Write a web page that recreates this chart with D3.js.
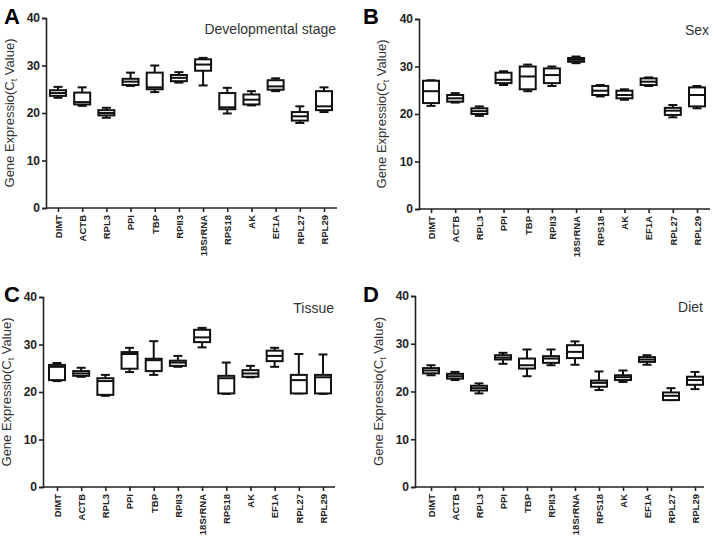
<!DOCTYPE html>
<html>
<head>
<meta charset="utf-8">
<script src="https://cdn.jsdelivr.net/npm/d3@7"></script>
<style>
  body { margin: 0; background: #fff; }
  text { font-family: Arial, "Liberation Sans", sans-serif; }
</style>
</head>
<body>
<div id="chart"></div>
<script>
// genes on the x axis
var genes = ["DIMT", "ACTB", "RPL3", "PPI", "TBP", "RPII3", "18SrRNA", "RPS18", "AK", "EF1A", "RPL27", "RPL29"];
var yTicks = [0, 10, 20, 30, 40];

// each row: [min, q1, median, q3, max] for one gene
var devStage = [
  [23.2, 23.6, 24.2, 24.8, 25.5],
  [21.5, 21.8, 22.3, 24.3, 25.4],
  [19.0, 19.5, 20.0, 20.6, 21.1],
  [25.7, 25.9, 26.6, 27.2, 28.5],
  [24.4, 25.0, 25.4, 28.5, 30.0],
  [26.4, 26.7, 27.4, 28.0, 28.6],
  [25.8, 28.9, 30.2, 31.3, 31.6],
  [19.9, 20.8, 21.2, 24.2, 25.3],
  [21.6, 21.8, 22.8, 23.9, 24.6],
  [24.6, 24.9, 25.6, 26.9, 27.3],
  [17.9, 18.4, 19.3, 20.2, 21.4],
  [20.2, 20.6, 21.4, 24.6, 25.4]
];
var sex = [
  [21.7, 22.3, 24.8, 27.0, 27.1],
  [22.4, 22.6, 23.3, 24.0, 24.4],
  [19.6, 20.0, 20.6, 21.2, 21.6],
  [26.1, 26.5, 27.2, 28.7, 29.0],
  [24.8, 25.2, 27.9, 30.0, 30.4],
  [25.9, 26.5, 28.2, 29.6, 30.0],
  [30.7, 31.0, 31.4, 31.8, 32.1],
  [23.7, 24.0, 24.9, 25.9, 26.1],
  [23.0, 23.3, 24.0, 24.9, 25.2],
  [25.9, 26.1, 26.8, 27.5, 27.7],
  [19.3, 19.8, 20.7, 21.3, 21.9],
  [21.2, 21.6, 24.0, 25.6, 25.9]
];
var tissue = [
  [22.3, 22.5, 25.3, 25.7, 26.1],
  [23.2, 23.4, 23.9, 24.4, 25.1],
  [19.2, 19.4, 22.3, 22.9, 23.6],
  [24.2, 24.9, 28.0, 28.4, 29.3],
  [23.6, 24.4, 26.7, 27.0, 30.7],
  [25.3, 25.5, 26.2, 26.6, 27.6],
  [29.4, 30.5, 31.5, 33.1, 33.5],
  [19.6, 19.7, 22.9, 23.4, 26.2],
  [23.1, 23.2, 23.9, 24.6, 25.5],
  [25.3, 26.5, 27.6, 28.7, 29.3],
  [19.7, 19.7, 22.5, 23.6, 28.0],
  [19.6, 19.7, 23.1, 23.6, 27.9]
];
var diet = [
  [23.4, 23.8, 24.4, 24.9, 25.5],
  [22.4, 22.7, 23.2, 23.7, 24.1],
  [19.6, 20.2, 20.7, 21.2, 21.7],
  [25.8, 26.7, 27.1, 27.6, 28.1],
  [23.2, 24.8, 25.5, 26.9, 28.8],
  [25.5, 26.0, 26.9, 27.4, 28.8],
  [25.6, 27.0, 28.3, 29.7, 30.5],
  [20.3, 21.0, 21.8, 22.3, 24.2],
  [22.0, 22.4, 23.0, 23.4, 24.4],
  [25.6, 26.2, 26.7, 27.2, 27.6],
  [18.2, 18.2, 19.1, 19.8, 20.7],
  [20.5, 21.4, 22.4, 23.1, 24.1]
];

var W = 714, H = 538;
var svg = d3.select("#chart").append("svg")
  .attr("width", W)
  .attr("height", H);

// panel placement on the page
var panels = [
  {letter: "A", title: "Developmental stage", data: devStage, ax: 46, top: 18, bottom: 208, xEnd: 337, c0: 58, c1: 324, lx: 4, ly: 24, labX: 14},
  {letter: "B", title: "Sex", data: sex, ax: 419, top: 19, bottom: 209, xEnd: 710, c0: 431, c1: 697, lx: 363, ly: 24, labX: 386},
  {letter: "C", title: "Tissue", data: tissue, ax: 43, top: 297, bottom: 487, xEnd: 335, c0: 57, c1: 323, lx: 4, ly: 302, labX: 11},
  {letter: "D", title: "Diet", data: diet, ax: 415, top: 296, bottom: 487, xEnd: 704, c0: 431, c1: 695, lx: 363, ly: 302, labX: 383}
];

panels.forEach(function(p) {
  var g = svg.append("g");

  var x = d3.scalePoint().domain(genes).range([p.c0, p.c1]);
  var y = d3.scaleLinear().domain([0, 40]).range([p.bottom, p.top]);

  // y axis
  var yAxis = g.append("g")
    .attr("transform", "translate(" + p.ax + ",0)")
    .call(d3.axisLeft(y).tickValues(yTicks).tickSize(4).tickPadding(2));
  yAxis.selectAll("text")
    .style("font-size", "12px").style("font-weight", "bold").attr("fill", "#222");

  // x axis
  var xAxis = g.append("g")
    .attr("transform", "translate(0," + p.bottom + ")")
    .call(d3.axisBottom(x).tickSize(4).tickPadding(3));
  xAxis.select(".domain")
    .attr("d", "M" + p.ax + ",0H" + p.xEnd);
  xAxis.selectAll("text")
    .style("font-size", "9.5px").style("font-weight", "bold").attr("fill", "#222")
    .attr("transform", "rotate(-90)")
    .attr("text-anchor", "end")
    .attr("x", -7).attr("y", 0).attr("dy", "0.35em");

  [yAxis, xAxis].forEach(function(a) {
    a.select(".domain").attr("stroke", "#222").attr("stroke-width", 1.6);
    a.selectAll(".tick line").attr("stroke", "#222").attr("stroke-width", 1.6);
  });

  // boxes
  var bw = 16, cw = 9;
  var boxes = g.selectAll(".box")
    .data(p.data)
    .enter().append("g")
    .attr("class", "box")
    .attr("transform", function(d, i) { return "translate(" + x(genes[i]) + ",0)"; });

  boxes.append("line")
    .attr("x1", 0).attr("x2", 0)
    .attr("y1", function(d) { return y(d[4]); })
    .attr("y2", function(d) { return y(d[0]); })
    .attr("stroke", "#111").attr("stroke-width", 2);
  boxes.append("line")
    .attr("x1", -cw / 2).attr("x2", cw / 2)
    .attr("y1", function(d) { return y(d[4]); })
    .attr("y2", function(d) { return y(d[4]); })
    .attr("stroke", "#111").attr("stroke-width", 2);
  boxes.append("line")
    .attr("x1", -cw / 2).attr("x2", cw / 2)
    .attr("y1", function(d) { return y(d[0]); })
    .attr("y2", function(d) { return y(d[0]); })
    .attr("stroke", "#111").attr("stroke-width", 2);
  boxes.append("rect")
    .attr("x", -bw / 2).attr("width", bw)
    .attr("y", function(d) { return y(d[3]); })
    .attr("height", function(d) { return y(d[1]) - y(d[3]); })
    .attr("fill", "#fff").attr("stroke", "#111").attr("stroke-width", 2);
  boxes.append("line")
    .attr("x1", -bw / 2).attr("x2", bw / 2)
    .attr("y1", function(d) { return y(d[2]); })
    .attr("y2", function(d) { return y(d[2]); })
    .attr("stroke", "#111").attr("stroke-width", 2);

  // panel title
  g.append("text")
    .attr("x", p.xEnd - 1).attr("y", p.top + 16)
    .attr("text-anchor", "end")
    .style("font-size", "14px").attr("fill", "#333")
    .text(p.title);

  // panel letter
  g.append("text")
    .attr("x", p.lx).attr("y", p.ly)
    .style("font-size", "22px").style("font-weight", "bold")
    .text(p.letter);

  // y label
  var lab = g.append("text")
    .attr("transform", "translate(" + p.labX + "," + ((p.top + p.bottom) / 2) + ") rotate(-90)")
    .attr("text-anchor", "middle")
    .style("font-size", "13px").attr("fill", "#333");
  lab.append("tspan").text("Gene Expressio(C");
  lab.append("tspan").attr("dy", 3).style("font-size", "9px").text("t");
  lab.append("tspan").attr("dy", -3).text(" Value)");
});
</script>
</body>
</html>
